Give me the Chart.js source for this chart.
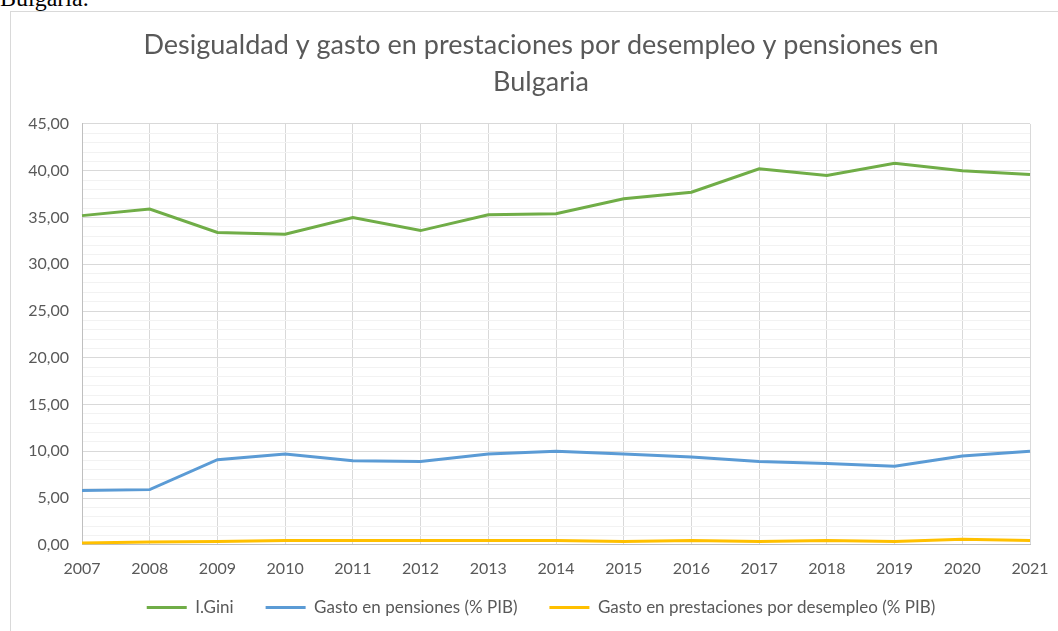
<!DOCTYPE html>
<html>
<head>
<meta charset="utf-8">
<script src="https://cdn.jsdelivr.net/npm/chart.js@4.4.0/dist/chart.umd.min.js"></script>
<style>
  body { margin: 0; width: 1058px; height: 631px; overflow: hidden; background: #fff; position: relative; }
  .doc { position: absolute; left: 0; top: -15px; font-family: "Liberation Serif", serif; font-size: 24px; color: #000; }
  .box { position: absolute; left: 10px; top: 11px; width: 1060px; height: 650px; border: 1px solid #d9d9d9; background: #fff; }
</style>
</head>
<body>
<div class="doc">Bulgaria.</div>
<div class="box">
  <canvas id="chart" width="1060" height="639"></canvas>
</div>
<script>
const years = ["2007","2008","2009","2010","2011","2012","2013","2014","2015","2016","2017","2018","2019","2020","2021"];
const gini = [35.2, 35.9, 33.4, 33.2, 35.0, 33.6, 35.3, 35.4, 37.0, 37.7, 40.2, 39.5, 40.8, 40.0, 39.6];
const pensiones = [5.8, 5.9, 9.1, 9.7, 9.0, 8.9, 9.7, 10.0, 9.7, 9.4, 8.9, 8.7, 8.4, 9.5, 10.0];
const desempleo = [0.2, 0.3, 0.35, 0.45, 0.45, 0.45, 0.45, 0.45, 0.35, 0.45, 0.35, 0.45, 0.35, 0.6, 0.45];

const font = "Lato";
const grey = "#595959";

// lift the legend a bit closer to the x labels, like the Excel original
const legendLift = {
  id: "legendLift",
  afterLayout(chart) {
    const lg = chart.legend;
    if (lg) { lg.top -= 25; lg.bottom -= 25; }
  },
};

const ctx = document.getElementById("chart");
new Chart(ctx, {
  type: "line",
  data: {
    labels: years,
    datasets: [
      { label: "I.Gini", data: gini, borderColor: "#70ad47", backgroundColor: "#70ad47" },
      { label: "Gasto en pensiones (% PIB)", data: pensiones, borderColor: "#5b9bd5", backgroundColor: "#5b9bd5" },
      { label: "Gasto en prestaciones por desempleo (% PIB)", data: desempleo, borderColor: "#ffc000", backgroundColor: "#ffc000" },
    ],
  },
  plugins: [legendLift],
  options: {
    responsive: false,
    animation: false,
    elements: {
      line: { borderWidth: 3, tension: 0 },
      point: { radius: 0 },
    },
    layout: { padding: { left: 41, right: 41, top: 0, bottom: 0 } },
    plugins: {
      tooltip: { enabled: false },
      title: {
        display: true,
        text: ["Desigualdad y gasto en prestaciones por desempleo y pensiones en", "Bulgaria"],
        color: grey,
        font: { family: font, size: 27, weight: "normal", lineHeight: 1.37 },
        padding: { top: 15, bottom: 23 },
      },
      legend: {
        position: "bottom",
        labels: {
          color: grey,
          font: { family: font, size: 17 },
          boxWidth: 40,
          boxHeight: 3,
          padding: 32,
          generateLabels: (chart) => {
            const items = Chart.defaults.plugins.legend.labels.generateLabels(chart);
            items.forEach((it) => { it.lineWidth = 0; });
            return items;
          },
        },
      },
    },
    scales: {
      x: {
        offset: false,
        grid: { color: "#d9d9d9", lineWidth: 1, drawTicks: false },
        border: { color: "#bfbfbf" },
        ticks: { color: grey, font: { family: font, size: 16 }, padding: 14, maxRotation: 0, autoSkip: false },
      },
      y: {
        min: 0,
        max: 45,
        afterFit: (axis) => {
          axis.width = 30;
          // labels hang out into the left padding, so don't clip them to the axis box
          axis._computeLabelArea = () => undefined;
        },
        grid: {
          drawTicks: false,
          color: (c) => (c.tick && c.tick.value % 5 === 0 ? "#d9d9d9" : "#f2f2f2"),
        },
        border: { color: "#bfbfbf" },
        ticks: {
          stepSize: 1,
          autoSkip: false,
          color: grey,
          font: { family: font, size: 16 },
          padding: 13,
          callback: (v) => (v % 5 === 0 ? v.toFixed(2).replace(".", ",") : ""),
        },
      },
    },
  },
});
</script>
</body>
</html>
